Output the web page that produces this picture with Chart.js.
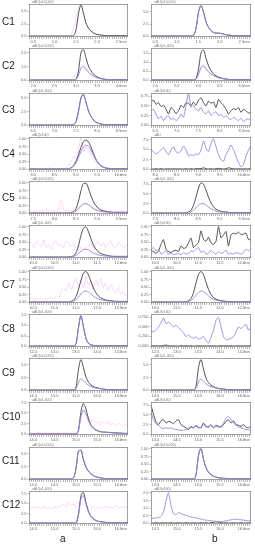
<!DOCTYPE html>
<html><head><meta charset="utf-8">
<script src="https://cdn.jsdelivr.net/npm/chart.js@4.4.1/dist/chart.umd.min.js"></script>
<style>
html,body{margin:0;padding:0;background:#fff;width:255px;height:550px;overflow:hidden}
#wrap{position:relative;width:255px;height:550px}
canvas{position:absolute}
.rl{position:absolute;font:10px "Liberation Sans",Arial,sans-serif;color:#222;line-height:10px}
</style></head><body><div id="wrap"></div>
<script>
// ---- data (relative intensity, sampled uniformly across each panel's time window) ----
const rowLabels = ['C1','C2','C3','C4','C5','C6','C7','C8','C9','C10','C11','C12'];
const colLabels = ['a','b'];

const c1a_k=[.01,.01,.01,.01,.01,.01,.01,.01,.01,.01,.01,.01,.01,.01,.01,.01,.01,.01,.03,.2,.7,.97,.72,.42,.26,.17,.11,.07,.05,.04,.03,.02,.02,.02,.02,.02,.02,.02,.02,.02,.02];
const c1a_m=[.01,.01,.01,.01,.01,.01,.01,.01,.01,.01,.01,.01,.01,.01,.01,.01,.01,.05,.25,.55,.9,1,.68,.4,.25,.16,.1,.07,.05,.04,.03,.02,.02,.02,.02,.02,.02,.02,.02,.02,.02];
const c2a_k=[.01,.01,.01,.01,.01,.01,.01,.01,.01,.01,.01,.01,.01,.01,.01,.01,.01,.01,.01,.04,.3,.85,.95,.7,.45,.3,.2,.13,.09,.06,.04,.03,.02,.02,.02,.02,.02,.02,.02,.02,.02];
const c2a_p=[.01,.01,.01,.01,.01,.01,.01,.01,.01,.01,.01,.01,.01,.01,.01,.01,.01,.01,.01,.03,.15,.38,.44,.36,.26,.19,.14,.1,.07,.05,.04,.03,.02,.02,.02,.02,.02,.02,.02,.02,.02];
const c2a_m=[.01,.01,.01,.01,.01,.01,.01,.01,.01,.01,.01,.01,.01,.01,.01,.01,.01,.03,.1,.18,.28,.36,.38,.3,.22,.16,.12,.09,.06,.05,.04,.03,.02,.02,.02,.02,.02,.02,.02,.02,.02];
const c3a_k=[.01,.01,.01,.01,.01,.01,.01,.01,.01,.01,.01,.01,.01,.01,.01,.01,.01,.01,.03,.12,.45,.85,.95,.72,.45,.28,.17,.1,.06,.04,.03,.02,.02,.02,.02,.02,.02,.02,.02,.02,.02];
const c3a_p=[.01,.01,.01,.01,.01,.01,.01,.01,.01,.01,.01,.01,.01,.01,.01,.01,.01,.01,.03,.11,.42,.82,.93,.72,.46,.29,.18,.11,.07,.04,.03,.02,.02,.02,.02,.02,.02,.02,.02,.02,.02];
const c4a_k=[.01,.01,.01,.01,.01,.01,.01,.01,.01,.01,.01,.01,.01,.01,.01,.01,.02,.05,.12,.25,.45,.68,.85,.9,.85,.7,.5,.32,.2,.12,.07,.04,.03,.02,.02,.02,.02,.02,.02,.02,.02];
const c4a_p=[.01,.01,.01,.01,.01,.01,.01,.01,.01,.01,.01,.01,.01,.01,.01,.01,.02,.04,.1,.2,.37,.55,.68,.74,.72,.6,.44,.3,.19,.12,.07,.04,.03,.02,.02,.02,.02,.02,.02,.02,.02];
const c4a_m=[.02,.03,.02,.04,.02,.03,.02,.03,.05,.02,.03,.02,.04,.03,.02,.05,.1,.25,.4,.35,.6,.98,.55,.7,.62,.45,.35,.25,.15,.1,.06,.04,.03,.03,.02,.04,.02,.03,.02,.03,.02];
const c5a_k=[.01,.01,.01,.01,.01,.01,.01,.01,.01,.01,.01,.01,.01,.01,.01,.01,.01,.02,.05,.15,.38,.7,.92,.93,.78,.55,.37,.24,.16,.11,.08,.06,.05,.04,.03,.03,.03,.03,.03,.03,.03];
const c5a_p=[.01,.01,.01,.01,.01,.01,.01,.01,.01,.01,.01,.01,.01,.01,.01,.01,.01,.02,.03,.07,.14,.23,.29,.3,.27,.21,.15,.11,.08,.06,.05,.04,.04,.03,.03,.02,.02,.02,.02,.02,.02];
const c5a_m=[.05,.08,.04,.1,.06,.09,.05,.12,.07,.1,.06,.09,.15,.4,.12,.08,.1,.06,.09,.12,.18,.25,.28,.3,.26,.2,.15,.1,.08,.09,.06,.08,.05,.07,.06,.08,.05,.07,.06,.05,.07];
const c6a_k=[.01,.01,.01,.01,.01,.01,.01,.01,.01,.01,.01,.01,.01,.01,.01,.01,.01,.02,.05,.14,.36,.68,.9,.94,.8,.58,.39,.26,.17,.12,.09,.07,.05,.04,.03,.03,.03,.03,.03,.03,.03];
const c6a_p=[.01,.01,.01,.01,.01,.01,.01,.01,.01,.01,.01,.01,.01,.01,.01,.01,.01,.02,.03,.06,.12,.19,.24,.25,.23,.18,.13,.1,.07,.06,.05,.04,.04,.03,.03,.02,.02,.02,.02,.02,.02];
const c6a_m=[.35,.45,.3,.5,.4,.35,.55,.3,.4,.25,.45,.5,.35,.4,.3,.5,.45,.35,.4,.3,.35,.3,.25,.3,.35,.45,.3,.4,.5,.35,.45,.3,.4,.5,.35,.3,.45,.4,.3,.35,.4];
const c7a_k=[.01,.01,.01,.01,.01,.01,.01,.01,.01,.01,.01,.01,.01,.01,.01,.01,.01,.03,.07,.18,.4,.68,.9,.95,.85,.65,.45,.3,.2,.14,.1,.07,.06,.05,.04,.03,.03,.03,.03,.03,.03];
const c7a_p=[.01,.01,.01,.01,.01,.01,.01,.01,.01,.01,.01,.01,.01,.01,.01,.01,.01,.02,.04,.08,.16,.26,.33,.35,.32,.26,.19,.14,.1,.08,.06,.05,.04,.04,.03,.03,.02,.02,.02,.02,.02];
const c7a_m=[.1,.15,.08,.12,.1,.14,.08,.12,.1,.15,.12,.2,.15,.3,.45,.35,.6,.4,.55,.75,.5,.7,.45,.8,.55,.65,.4,.7,.5,.75,.45,.6,.35,.55,.4,.3,.45,.25,.35,.2,.3];
const c8a_k=[.01,.01,.01,.01,.01,.01,.01,.01,.01,.01,.01,.01,.01,.01,.01,.01,.01,.01,.01,.08,.6,.95,.6,.25,.1,.05,.03,.02,.02,.02,.02,.02,.02,.02,.02,.02,.02,.02,.02,.02,.02];
const c8a_p=[.01,.01,.01,.01,.01,.01,.01,.01,.01,.01,.01,.01,.01,.01,.01,.01,.01,.01,.01,.07,.57,.93,.6,.26,.1,.05,.03,.02,.02,.02,.02,.02,.02,.02,.02,.02,.02,.02,.02,.02,.02];
const c9a_k=[.01,.01,.01,.01,.01,.01,.01,.01,.01,.01,.01,.01,.01,.01,.01,.01,.01,.01,.01,.1,.65,.95,.7,.42,.26,.17,.12,.09,.07,.05,.04,.03,.02,.02,.02,.02,.02,.02,.02,.02,.02];
const c9a_p=[.01,.01,.01,.01,.01,.01,.01,.01,.01,.01,.01,.01,.01,.01,.01,.01,.01,.01,.01,.05,.25,.35,.3,.22,.16,.12,.09,.07,.06,.05,.04,.03,.02,.02,.02,.02,.02,.02,.02,.02,.02];
const c10a_k=[.01,.01,.01,.01,.01,.01,.01,.01,.01,.01,.01,.01,.01,.01,.01,.01,.01,.01,.01,.01,.15,.7,.95,.78,.5,.3,.2,.14,.1,.08,.07,.07,.06,.06,.05,.05,.04,.04,.03,.03,.03];
const c10a_p=[.01,.01,.01,.01,.01,.01,.01,.01,.01,.01,.01,.01,.01,.01,.01,.01,.01,.01,.01,.01,.12,.55,.75,.65,.42,.27,.18,.13,.1,.08,.07,.06,.06,.05,.05,.04,.04,.04,.03,.03,.03];
const c10a_m=[.03,.05,.02,.04,.06,.03,.05,.02,.04,.03,.05,.03,.06,.02,.04,.05,.03,.04,.02,.05,.1,.5,.72,.6,.5,.4,.45,.35,.4,.3,.38,.32,.4,.3,.35,.28,.33,.3,.25,.3,.28];
const c11a_k=[.01,.01,.01,.01,.01,.01,.01,.01,.01,.01,.01,.01,.01,.01,.01,.01,.01,.01,.05,.35,.88,.9,.6,.38,.25,.17,.12,.08,.06,.04,.03,.02,.02,.02,.02,.02,.02,.02,.02,.02,.02];
const c11a_p=[.01,.01,.01,.01,.01,.01,.01,.01,.01,.01,.01,.01,.01,.01,.01,.01,.01,.01,.05,.33,.85,.9,.62,.4,.26,.18,.12,.08,.06,.04,.03,.02,.02,.02,.02,.02,.02,.02,.02,.02,.02];
const c12a_k=[.01,.01,.01,.01,.01,.01,.01,.01,.01,.01,.01,.01,.01,.01,.01,.01,.01,.01,.01,.01,.3,.85,.95,.65,.38,.22,.14,.09,.06,.05,.04,.03,.02,.02,.02,.02,.02,.02,.02,.02,.02];
const c12a_p=[.01,.01,.01,.01,.01,.01,.01,.01,.01,.01,.01,.01,.01,.01,.01,.01,.01,.01,.01,.01,.25,.75,.85,.6,.36,.21,.13,.09,.06,.05,.04,.03,.02,.02,.02,.02,.02,.02,.02,.02,.02];
const c12a_m=[.5,.45,.52,.48,.5,.46,.53,.47,.5,.44,.52,.48,.5,.55,.6,.5,.65,.55,.6,.5,.55,.8,.85,.6,.5,.45,.52,.48,.5,.46,.5,.52,.48,.5,.46,.55,.5,.48,.52,.5,.47];

const c1b_k=[.01,.01,.01,.01,.01,.01,.01,.01,.01,.01,.01,.01,.01,.01,.01,.01,.01,.03,.25,.75,.95,.75,.45,.28,.18,.12,.1,.1,.09,.07,.05,.04,.03,.02,.02,.02,.02,.02,.02,.02,.02];
const c1b_p=[.01,.01,.01,.01,.01,.01,.01,.01,.01,.01,.01,.01,.01,.01,.01,.01,.01,.03,.24,.73,.93,.74,.45,.28,.18,.12,.1,.1,.09,.07,.05,.04,.03,.02,.02,.02,.02,.02,.02,.02,.02];
const c2b_k=[.01,.01,.01,.01,.01,.01,.01,.01,.01,.01,.01,.01,.01,.01,.01,.01,.01,.01,.05,.35,.85,.93,.68,.45,.3,.2,.14,.1,.07,.05,.04,.03,.02,.02,.02,.02,.02,.02,.02,.02,.02];
const c2b_p=[.01,.01,.01,.01,.01,.01,.01,.01,.01,.01,.01,.01,.01,.01,.01,.01,.01,.01,.03,.18,.4,.45,.36,.27,.2,.15,.11,.08,.06,.05,.04,.03,.02,.02,.02,.02,.02,.02,.02,.02,.02];
const c2b_m=[.01,.01,.01,.01,.01,.01,.01,.01,.01,.01,.01,.01,.01,.01,.01,.01,.01,.01,.04,.2,.36,.4,.33,.25,.19,.14,.1,.08,.06,.05,.04,.03,.02,.02,.02,.02,.02,.02,.02,.02,.02];
const c3b_k=[.72,.78,.65,.7,.58,.62,.5,.35,.55,.48,.36,.45,.62,.55,.7,.68,.6,.72,.62,.78,.85,.7,.6,.75,.68,.72,.55,.8,.7,.62,.5,.35,.45,.52,.48,.55,.4,.5,.45,.38,.42];
const c3b_p=[.45,.5,.35,.2,.28,.15,.25,.3,.18,.22,.15,.2,.35,.25,.6,1,.55,.62,.5,.45,.55,.4,.35,.45,.3,.38,.42,.3,.35,.25,.3,.22,.18,.25,.2,.15,.22,.12,.18,.2,.15];
const c4b_k=[.02,.01,.02,.01,.02,.01,.01,.02,.01,.02,.01,.02,.01,.01,.02,.01,.02,.01,.02,.03,.02,.05,.02,.01,.02,.01,.02,.03,.02,.01,.02,.05,.03,.02,.01,.02,.01,.02,.01,.02,.01];
const c4b_p=[.6,.55,.48,.52,.6,.68,.55,.45,.6,.7,.55,.5,.58,.72,.6,.42,.45,.43,.48,.45,.6,.88,.65,.55,.8,.95,.7,.45,.3,.25,.45,.6,.75,.62,.4,.2,.08,.15,.4,.6,.72];
const c5b_k=[.01,.01,.01,.01,.01,.01,.01,.01,.01,.01,.01,.01,.01,.01,.02,.04,.1,.25,.5,.78,.94,.9,.72,.5,.32,.2,.13,.09,.06,.05,.04,.03,.02,.02,.02,.02,.02,.02,.02,.02,.02];
const c5b_p=[.01,.01,.01,.01,.01,.01,.01,.01,.01,.01,.01,.01,.01,.01,.02,.03,.05,.1,.17,.25,.3,.3,.26,.2,.14,.1,.07,.05,.04,.04,.03,.03,.02,.02,.02,.02,.02,.02,.02,.02,.02];
const c6b_k=[.2,.18,.12,.2,.4,.55,.25,.18,.15,.2,.22,.18,.35,.28,.3,.45,.6,.3,.38,.45,.82,.55,.5,.62,.45,.4,.5,.95,.6,.7,.8,.35,.7,.75,.72,.78,.7,.72,.75,.55,.55];
const c6b_p=[.25,.3,.2,.25,.1,.15,.2,.1,.12,.08,.1,.12,.08,.15,.1,.12,.2,.18,.25,.3,.15,.2,.1,.12,.22,.15,.1,.18,.12,.15,.22,.1,.12,.1,.15,.12,.1,.15,.25,.2,.28];
const c7b_k=[.01,.01,.01,.01,.01,.01,.01,.01,.01,.01,.01,.01,.01,.01,.02,.05,.12,.3,.6,.86,.95,.85,.62,.4,.25,.15,.1,.07,.05,.04,.03,.02,.02,.02,.02,.02,.02,.02,.02,.02,.02];
const c7b_p=[.01,.01,.01,.01,.01,.01,.01,.01,.01,.01,.01,.01,.01,.01,.02,.03,.06,.12,.22,.31,.35,.33,.27,.2,.14,.1,.07,.05,.04,.03,.03,.02,.02,.02,.02,.02,.02,.02,.02,.02,.02];
const c8b_k=[.01,.02,.01,.02,.01,.03,.04,.02,.01,.02,.01,.01,.02,.01,.02,.01,.02,.01,.01,.02,.01,.02,.01,.02,.01,.02,.01,.01,.02,.01,.02,.01,.02,.01,.01,.02,.01,.02,.01,.02,.01];
const c8b_p=[.47,.45,.5,.6,.72,.88,.7,.75,.68,.6,.65,.58,.5,.42,.3,.35,.28,.25,.3,.22,.25,.3,.18,.1,.28,.5,.8,.9,.6,.3,.2,.22,.25,.3,.45,.6,.55,.62,.68,.5,.58];
const c9b_k=[.01,.01,.01,.01,.01,.01,.01,.01,.01,.01,.01,.01,.01,.01,.01,.01,.01,.01,.12,.7,.95,.65,.38,.24,.16,.11,.08,.06,.05,.04,.03,.02,.02,.02,.02,.02,.02,.02,.02,.02,.02];
const c9b_p=[.01,.01,.01,.01,.01,.01,.01,.01,.01,.01,.01,.01,.01,.01,.01,.01,.01,.01,.06,.26,.35,.28,.2,.15,.11,.09,.07,.05,.04,.04,.03,.02,.02,.02,.02,.02,.02,.02,.02,.02,.02];
const c10b_k=[.9,.62,.38,.3,.42,.45,.35,.4,.38,.33,.42,.45,.3,.25,.2,.15,.25,.2,.28,.22,.2,.35,.25,.22,.3,.2,.28,.25,.22,.3,.4,.45,.35,.42,.3,.28,.25,.3,.22,.2,.25];
const c10b_p=[.7,.45,.32,.28,.2,.18,.2,.18,.2,.17,.15,.14,.12,.13,.15,.2,.22,.2,.25,.2,.22,.3,.22,.25,.28,.2,.25,.22,.25,.35,.5,.55,.45,.35,.28,.22,.2,.18,.15,.14,.12];
const c11b_k=[.01,.01,.01,.01,.01,.01,.01,.01,.01,.01,.01,.01,.01,.01,.01,.01,.01,.01,.15,.75,.95,.62,.36,.22,.14,.1,.07,.05,.04,.03,.03,.02,.02,.02,.02,.02,.02,.02,.02,.02,.02];
const c11b_p=[.01,.01,.01,.01,.01,.01,.01,.01,.01,.01,.01,.01,.01,.01,.01,.01,.01,.01,.14,.72,.93,.62,.37,.23,.15,.1,.07,.05,.04,.03,.03,.02,.02,.02,.02,.02,.02,.02,.02,.02,.02];
const c12b_k=[.01,.01,.02,.01,.01,.02,.01,.01,.02,.01,.01,.02,.01,.01,.02,.01,.01,.02,.01,.01,.02,.01,.02,.01,.02,.03,.05,.03,.02,.01,.02,.01,.01,.02,.01,.01,.02,.01,.01,.02,.01];
const c12b_p=[.15,.16,.17,.18,.22,.35,.7,.95,.55,.3,.26,.34,.3,.27,.25,.22,.2,.18,.17,.15,.13,.11,.1,.09,.08,.07,.06,.05,.05,.06,.08,.09,.11,.12,.13,.12,.11,.1,.09,.08,.08];

// x-axis first label & label step (min) per row
const xStart = [0.5,2.0,6.5,8.0,7.5,10.0,10.5,12.5,14.5,14.0,14.0,14.5];
const xStep  = [0.5,0.5,0.5,0.5,0.5,0.5,0.5,0.5,0.5,0.5,0.5,0.5];
const y3=[0,.4,.8], y4=[0,.3,.6,.9], y5=[0,.235,.47,.705,.94];
const l3=['0.0','2.5','5.0'], l4=['0.0','2.5','5.0','7.5'], l5=['0.00','0.25','0.50','0.75','1.00'];

const panels = [
 {r:0,c:0,t:'uAU(x10,000)',yt:[0,.38,.78],yl:l3,k:c1a_k,p:null,m:c1a_m,n:false},
 {r:1,c:0,t:'uAU(x10,000)',yt:[0,.42,.85],yl:['0.0','1.0','2.0'],k:c2a_k,p:c2a_p,m:c2a_m,n:false},
 {r:2,c:0,t:'uAU(x1,000)',yt:[0,.42,.85],yl:l3,k:c3a_k,p:c3a_p,m:null,n:false},
 {r:3,c:0,t:'uAU(x100)',yt:y5,yl:l5,k:c4a_k,p:c4a_p,m:c4a_m,n:false},
 {r:4,c:0,t:'uAU(x10,000)',yt:y5,yl:l5,k:c5a_k,p:c5a_p,m:c5a_m,n:false},
 {r:5,c:0,t:'uAU(x1,000)',yt:y5,yl:l5,k:c6a_k,p:c6a_p,m:c6a_m,n:false},
 {r:6,c:0,t:'uAU(x10,000)',yt:y5,yl:l5,k:c7a_k,p:c7a_p,m:c7a_m,n:false},
 {r:7,c:0,t:'uAU(x1,000)',yt:[0,.32,.65,.98],yl:['0.0','0.5','1.0','1.5'],k:c8a_k,p:c8a_p,m:null,n:false},
 {r:8,c:0,t:'uAU(x10,000)',yt:y3,yl:l3,k:c9a_k,p:c9a_p,m:null,n:false},
 {r:9,c:0,t:'uAU(x1,000)',yt:[0,.33,.66,.98],yl:l4,k:c10a_k,p:c10a_p,m:c10a_m,n:false},
 {r:10,c:0,t:'uAU(x10,000)',yt:y3,yl:l3,k:c11a_k,p:c11a_p,m:null,n:false},
 {r:11,c:0,t:'uAU(x1,000)',yt:[0,.3,.62,.92],yl:l4,k:c12a_k,p:c12a_p,m:c12a_m,n:false},
 {r:0,c:1,t:'uAU(x10,000)',yt:[0,.38,.76],yl:l3,k:c1b_k,p:c1b_p,m:null,n:false},
 {r:1,c:1,t:'uAU(x1,000)',yt:[0,.28,.56,.84],yl:['0.0','0.5','1.0','1.5'],k:c2b_k,p:c2b_p,m:c2b_m,n:false},
 {r:2,c:1,t:'uAU(x100)',yt:y4,yl:['0.00','0.25','0.50','0.75'],k:c3b_k,p:c3b_p,m:null,n:true},
 {r:3,c:1,t:'uAU',yt:[0,.3,.62,.92],yl:l4,k:c4b_k,p:c4b_p,m:null,n:true},
 {r:4,c:1,t:'uAU(x1,000)',yt:y4,yl:l4,k:c5b_k,p:c5b_p,m:null,n:false},
 {r:5,c:1,t:'uAU(x100)',yt:y5,yl:l5,k:c6b_k,p:c6b_p,m:null,n:true},
 {r:6,c:1,t:'uAU(x1,000)',yt:y5,yl:l5,k:c7b_k,p:c7b_p,m:null,n:false},
 {r:7,c:1,t:'uAU(x100)',yt:[0,.32,.6,.9],yl:['0.000','0.250','0.500','0.750'],k:c8b_k,p:c8b_p,m:null,n:true},
 {r:8,c:1,t:'uAU(x1,000)',yt:y3,yl:l3,k:c9b_k,p:c9b_p,m:null,n:false},
 {r:9,c:1,t:'uAU(x100)',yt:y4,yl:l4,k:c10b_k,p:c10b_p,m:null,n:true},
 {r:10,c:1,t:'uAU(x10,000)',yt:y5,yl:l5,k:c11b_k,p:c11b_p,m:null,n:false},
 {r:11,c:1,t:'uAU(x100)',yt:y5,yl:['0.0','0.5','1.0','1.5','2.0'],k:c12b_k,p:c12b_p,m:null,n:true}
];

// ---- drawing ----
const wrap = document.getElementById('wrap');
const deco = {
  id:'deco',
  afterDraw(ch, args, o){
    const a = ch.chartArea, ctx = ch.ctx;
    ctx.save();
    ctx.strokeStyle = '#8a8a8a'; ctx.lineWidth = 0.8;
    ctx.strokeRect(a.left+0.4, a.top+0.4, a.right-a.left-0.8, a.bottom-a.top-0.8);
    ctx.fillStyle = '#777';
    ctx.font = '3.5px "Liberation Sans", Arial, sans-serif';
    ctx.textBaseline = 'bottom'; ctx.textAlign = 'left';
    ctx.fillText(o.title, a.left+3, a.top-0.3);
    ctx.font = '4px "Liberation Sans", Arial, sans-serif';
    ctx.textBaseline = 'top'; ctx.textAlign = 'right';
    ctx.fillText('min', a.right-1, a.bottom+2.6);
    ctx.restore();
  }
};

function series(arr, x0, x1){
  return arr.map((v,i)=>({x: x0 + i*(x1-x0)/(arr.length-1), y: v}));
}

panels.forEach(P=>{
  const x0 = xStart[P.r], xs = xStep[P.r];
  const xMin = x0 - 0.2*xs, xMax = xMin + 4.65*xs;
  const cv = document.createElement('canvas');
  const left = P.c===0 ? 10 : 132;
  const w = P.c===0 ? 118 : 119;
  cv.width = w; cv.height = 45;
  cv.style.width = w+'px'; cv.style.height = '45px';
  cv.style.left = left+'px';
  cv.style.top = Math.round(44.27*P.r)+'px';
  wrap.appendChild(cv);
  const ten = P.n ? 0.15 : 0.4;
  const ds = [];
  if (P.p) ds.push({data: series(P.p,xMin,xMax), borderColor:'#9a82e4', borderWidth:0.9, order:0});
  ds.push({data: series(P.k,xMin,xMax), borderColor:'#3c3c3c', borderWidth:0.9, order:1});
  if (P.m) ds.push({data: series(P.m,xMin,xMax), borderColor:'rgba(236,130,236,0.38)', borderWidth:0.8, order:2});
  ds.forEach(d=>{ d.pointRadius=0; d.fill=false; d.tension=ten; if(!P.n) d.cubicInterpolationMode='monotone'; });
  new Chart(cv, {
    type:'line',
    data:{datasets: ds},
    options:{
      responsive:false, animation:false, devicePixelRatio:1,
      layout:{padding:{top:4,left:0,right:0,bottom:0}},
      plugins:{legend:{display:false}, tooltip:{enabled:false}, deco:{title:P.t}},
      scales:{
        x:{type:'linear', min:xMin, max:xMax,
          border:{display:false},
          grid:{display:true, drawOnChartArea:false, drawTicks:true, tickLength:2, color:'#888', lineWidth:0.6},
          afterBuildTicks:s=>{
            const m = xs/10, t=[];
            const n0 = Math.ceil((xMin - x0)/m - 1e-9);
            for(let n=n0; x0+n*m <= xMax+1e-9; n++) t.push({value: x0+n*m});
            s.ticks = t;
          },
          ticks:{autoSkip:false, maxRotation:0, padding:0.5, color:'#666',
            font:{size:4, family:'"Liberation Sans", Arial, sans-serif'},
            callback:(v)=>{ const q=(v-x0)/xs, n=Math.round(q); return (Math.abs(q-n)<1e-6 && n>=0 && n<=4) ? (x0+n*xs).toFixed(1) : ''; }},
          afterFit:s=>{ s.height = 8; }
        },
        y:{type:'linear', min:-0.02, max:1.0,
          border:{display:false},
          grid:{display:true, drawOnChartArea:false, drawTicks:true, tickLength:1.5, color:'#888', lineWidth:0.6},
          afterBuildTicks:s=>{ s.ticks = P.yt.map(v=>({value:v})); },
          ticks:{autoSkip:false, padding:1, color:'#666',
            font:{size:4, family:'"Liberation Sans", Arial, sans-serif'},
            callback:(v,i)=>P.yl[i]},
          afterFit:s=>{ s.width = 19; }
        }
      }
    },
    plugins:[deco]
  });
});

rowLabels.forEach((t,i)=>{
  const d = document.createElement('div');
  d.className='rl'; d.textContent=t;
  d.style.left='2px'; d.style.top=(17+43.9*i)+'px';
  wrap.appendChild(d);
});
colLabels.forEach((t,i)=>{
  const d = document.createElement('div');
  d.className='rl'; d.textContent=t;
  d.style.left=(i===0?60:212)+'px'; d.style.top='534px';
  wrap.appendChild(d);
});
</script></body></html>
